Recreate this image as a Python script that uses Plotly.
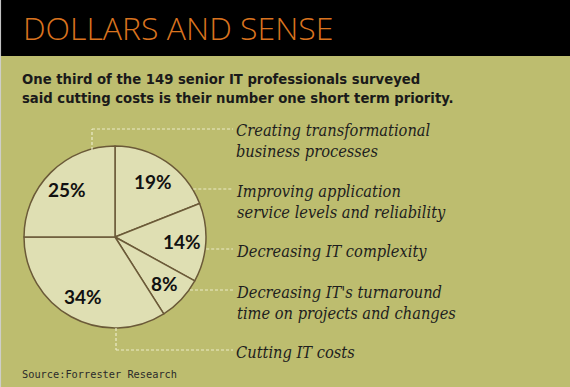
import math
import plotly.graph_objects as go

W, H = 570, 387

# ---- data ----
title = "DOLLARS AND SENSE"
subtitle = ["One third of the 149 senior IT professionals surveyed",
            "said cutting costs is their number one short term priority."]
categories = ["Creating transformational<br>business processes",
              "Improving application<br>service levels and reliability",
              "Decreasing IT complexity",
              "Decreasing IT's turnaround<br>time on projects and changes",
              "Cutting IT costs"]
slice_values = [19, 14, 8, 34, 25]          # pie order, clockwise from 12 o'clock
slice_names = ["Improving application service levels and reliability",
               "Decreasing IT complexity",
               "Decreasing IT's turnaround time on projects and changes",
               "Cutting IT costs",
               "Creating transformational business processes"]
source = "Source:Forrester Research"

BG = "#bdbd6f"
FILL = "#dfdfb3"
EDGE = "#6b5a38"
LEAD = "#ebebc8"

# pie geometry (pixels)
cx, cy, r = 115, 237, 91
label_r = 0.74  # relative radius of percentage labels

def px(x):
    return x / W

def py(y):
    return 1 - y / H

fig = go.Figure()
fig.add_trace(go.Pie(
    values=slice_values,
    labels=slice_names,
    sort=False,
    direction="clockwise",
    rotation=0,
    hole=0,
    marker=dict(colors=[FILL] * 5, line=dict(color=EDGE, width=1.5)),
    textinfo="none",
    hoverinfo="skip",
    showlegend=False,
    domain=dict(x=[px(cx - r), px(cx + r)], y=[py(cy + r), py(cy - r)]),
))

annotations = []

# percentage labels at slice mid-angles (computed from the values)
total = sum(slice_values)
acc = 0
for v in slice_values:
    mid = (acc + v / 2) / total * 2 * math.pi
    acc += v
    annotations.append(dict(
        text=f"{v}%", xref="x", yref="y",
        x=cx + label_r * r * math.sin(mid), y=cy - label_r * r * math.cos(mid),
        xanchor="center", yanchor="middle", showarrow=False,
        font=dict(family="Lato", size=19, color="#111111", weight="bold")))

shapes = []
# black header band
shapes.append(dict(type="rect", xref="paper", yref="paper", x0=0, x1=1,
                   y0=py(56), y1=1, fillcolor="#000000", line=dict(width=0), layer="below"))

# label rows (pixel y of first line) and leader lines
label_x = 236
label_y = [130, 191, 251, 292, 352]
lead_end = 233
dash = dict(color=LEAD, width=1.2, dash="3px,2px")

# Creating: vertical up from top-left of pie, then right
x_c = 92
y_edge = cy - math.sqrt(r * r - (cx - x_c) ** 2)
shapes.append(dict(type="line", xref="paper", yref="paper", x0=px(x_c), x1=px(x_c),
                   y0=py(y_edge + 1), y1=py(label_y[0] - 1), line=dash))
shapes.append(dict(type="line", xref="paper", yref="paper", x0=px(x_c), x1=px(lead_end),
                   y0=py(label_y[0] - 1), y1=py(label_y[0] - 1), line=dash))
# horizontal leaders from right edge
for yy in label_y[1:4]:
    yl = yy - 2
    xe = cx + math.sqrt(max(r * r - (yl - cy) ** 2, 0))
    shapes.append(dict(type="line", xref="paper", yref="paper", x0=px(xe + 1), x1=px(lead_end),
                       y0=py(yl), y1=py(yl), line=dash))
# Cutting: vertical down from bottom of pie, then right
x_b = 116
y_edge = cy + math.sqrt(r * r - (cx - x_b) ** 2)
shapes.append(dict(type="line", xref="paper", yref="paper", x0=px(x_b), x1=px(x_b),
                   y0=py(y_edge), y1=py(label_y[4] - 2), line=dash))
shapes.append(dict(type="line", xref="paper", yref="paper", x0=px(x_b), x1=px(lead_end),
                   y0=py(label_y[4] - 2), y1=py(label_y[4] - 2), line=dash))
# thin left border
shapes.append(dict(type="line", xref="paper", yref="paper", x0=0.001, x1=0.001, y0=0, y1=1,
                   line=dict(color="#cfcfcf", width=1)))

annotations.append(dict(text=title, xref="paper", yref="paper", x=px(21), y=py(27),
                        xanchor="left", yanchor="middle", showarrow=False,
                        font=dict(family="Open Sans", size=32, color="#d9731f", weight=300)))
annotations.append(dict(text="<br>".join(subtitle), xref="paper", yref="paper", x=px(20), y=py(88),
                        xanchor="left", yanchor="middle", showarrow=False, align="left",
                        font=dict(family="DejaVu Sans Condensed", size=14.7, color="#1a1a1a",
                                  weight="bold")))
for name, yy in zip(categories, label_y):
    annotations.append(dict(text=name, xref="paper", yref="paper", x=px(label_x - 2), y=py(yy - 11),
                            xanchor="left", yanchor="top", showarrow=False, align="left",
                            font=dict(family="DejaVu Serif Condensed", size=16.3, color="#1e1e1e",
                                      style="italic")))
annotations.append(dict(text=source, xref="paper", yref="paper", x=px(20), y=py(374),
                        xanchor="left", yanchor="middle", showarrow=False,
                        font=dict(family="DejaVu Sans Mono", size=10.3, color="#2a2a2a")))

fig.update_layout(
    width=W, height=H,
    margin=dict(l=0, r=0, t=0, b=0),
    paper_bgcolor=BG, plot_bgcolor="rgba(0,0,0,0)",
    shapes=shapes, annotations=annotations,
    xaxis=dict(range=[0, W], domain=[0, 1], visible=False, fixedrange=True),
    yaxis=dict(range=[H, 0], domain=[0, 1], visible=False, fixedrange=True),
)

fig.write_html("out.html", config={"displayModeBar": False},
               post_script="document.body.style.margin='0';document.body.style.overflow='hidden';")
